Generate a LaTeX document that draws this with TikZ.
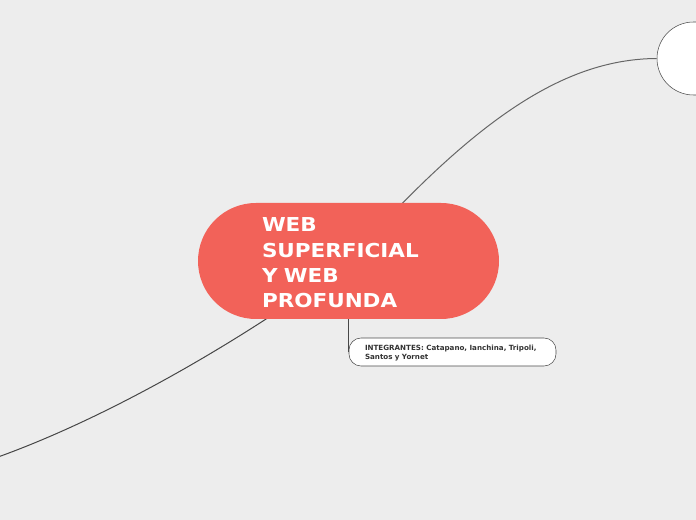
\documentclass[tikz,border=0pt]{standalone}
\usepackage{fontspec}
\setmainfont{DejaVu Sans}
\newfontfamily\titlefont[FakeStretch=1.12]{DejaVu Sans}
\usetikzlibrary{positioning}
\definecolor{canvas}{HTML}{EDEDED}
\definecolor{coral}{HTML}{F26259}
\definecolor{ink}{HTML}{333333}
\pgfdeclarelayer{bg}
\pgfdeclarelayer{links}
\pgfsetlayers{bg,links,main}

\begin{document}
\begin{tikzpicture}[x=0.75pt,y=-0.75pt,
  root/.style={fill=coral,rounded corners=43.5pt,minimum width=225.75pt,minimum height=87pt,
    text width=129.75pt,align=left,inner sep=0pt,text=white,
    font=\titlefont\bfseries\fontsize{14.4}{19}\selectfont},
  leaf/.style={draw=black!70,fill=white,rounded corners=9pt,text width=131.25pt,
    inner xsep=12pt,inner ysep=0pt,minimum height=21pt,align=left,text=ink,
    font=\bfseries\fontsize{5.35}{6.75}\selectfont},
  topic/.style={draw=black!70,fill=white,rounded corners=27.4pt,minimum width=90pt,minimum height=54.75pt},
  link/.style={line width=0.75pt}]
\useasboundingbox (0,0) rectangle (696,520);

\node[root] (root) at (348.5,261) {\rule{0pt}{13.5pt}WEB\\SUPERFICIAL\\Y WEB\\PROFUNDA};
\node[leaf] (members) at (452.5,352) {\rule{0pt}{5.5pt}INTEGRANTES: Catapano, Ianchina, Tripoli,\\Santos y Yornet};
\node[topic] (web) at (717,58.5) {};
\coordinate (farleft) at (-80,480);

\begin{pgfonlayer}{links}
\draw[link,black!60] (root.center) .. controls (470,125) and (560,59) .. (web.west);
\draw[link,black!72] (root.center) .. controls (280,315) and (80,445) .. (farleft);
\draw[link,black!72] (root.south -| members.west) -- (members.west);
\end{pgfonlayer}

\begin{pgfonlayer}{bg}
\fill[canvas] (0,0) rectangle (696,520);
\end{pgfonlayer}
\end{tikzpicture}
\end{document}
